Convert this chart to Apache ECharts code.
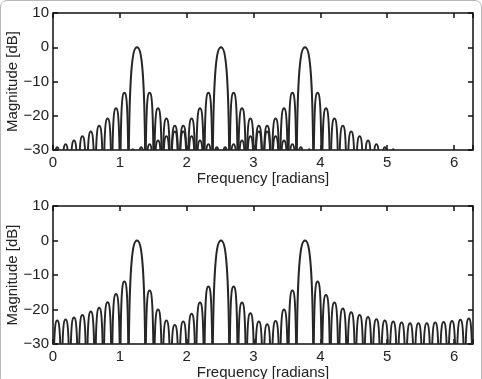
<!DOCTYPE html>
<html>
<head>
<meta charset="utf-8">
<script src="https://cdn.jsdelivr.net/npm/echarts@6/dist/echarts.min.js"></script>
<style>
  html, body { margin: 0; padding: 0; background: #fff; }
  #chart { width: 482px; height: 379px; }
  #frame { position: absolute; left: 0; top: 0; width: 482px; height: 385px; box-sizing: border-box;
           border: 1px solid #b8b8b8; border-radius: 7px; pointer-events: none; }
</style>
</head>
<body>
<div id="chart"></div>
<div id="frame"></div>
<script>
// null positions (radians) shared by every curve
const nulls = [0, 0.126, 0.251, 0.377, 0.503, 0.628, 0.754, 0.880, 1.005, 1.131,
  1.257, 1.382, 1.508, 1.634, 1.759, 1.885, 2.011, 2.136, 2.262, 2.388,
  2.513, 2.639, 2.765, 2.890, 3.016, 3.142, 3.267, 3.393, 3.519, 3.644,
  3.770, 3.896, 4.021, 4.147, 4.273, 4.398, 4.524, 4.650, 4.775, 4.901,
  5.027, 5.152, 5.278, 5.404, 5.529, 5.655, 5.781, 5.906, 6.032, 6.158, 6.283];
const xTicks = [0, 1, 2, 3, 4, 5, 6];
const yTicks = [-30, -20, -10, 0, 10];

// lobe peak per null interval (dB), null = below the -30 floor
const top1Peaks = [-29.2, -28.3, -27.2, -26.0, -24.6, -22.9, -20.8, -17.8, -13.3,
  0, 0,
  -13.3, -17.8, -20.8, -22.9, -24.6, -26.0, -27.2, -28.3, -29.2, -29.8,
  null, null, null, null, null, null, null, null, null, null, null, null, null, null, null,
  null, null, null, null, null, null, null, null, null, null, null, null, null, null];
const top2Peaks = [null, null, null, null, null, null, null, null, null,
  -29.8, -29.2, -28.3, -27.2, -26.0, -24.6, -22.9, -20.8, -17.8, -13.3,
  0, 0,
  -13.3, -17.8, -20.8, -22.9, -24.6, -26.0, -27.2, -28.3, -29.2, -29.8,
  null, null, null, null, null, null, null, null, null, null, null, null, null, null, null,
  null, null, null, null];
const top3Peaks = [null, null, null, null, null, null, null, null, null, null,
  null, null, null, null, null, null, null, null, null,
  -29.8, -29.2, -28.3, -27.2, -26.0, -24.6, -22.9, -20.8, -17.8, -13.3,
  0, 0,
  -13.3, -17.8, -20.8, -22.9, -24.6, -26.0, -27.2, -28.3, -29.2, -29.8,
  null, null, null, null, null, null, null, null, null];
const bottomPeaks = [-23.2, -22.9, -22.3, -21.6, -20.6, -19.5, -17.9, -15.5, -11.9,
  0, 0,
  -14.5, -20.0, -23.2, -24.5, -23.5, -21.2, -18.0, -13.3,
  0, 0,
  -13.3, -18.0, -21.1, -23.5, -24.3, -23.3, -20.0, -14.5,
  0, 0,
  -11.9, -15.8, -18.0, -19.7, -20.8, -21.6, -22.2, -22.8, -23.2, -23.5,
  -23.8, -24.0, -24.0, -24.0, -23.8, -23.6, -23.3, -23.0, -22.6];

// first interval of each main lobe (main lobes span two intervals)
const top1Main = [9];
const top2Main = [19];
const top3Main = [29];
const bottomMain = [9, 19, 29];

function lobes(peaks, mains) {
    const out = [];
    for (let i = 0; i < peaks.length; i++) {
        const isMain = mains.includes(i);
        if (peaks[i] !== null) out.push([nulls[i], nulls[isMain ? i + 2 : i + 1], peaks[i], isMain ? 1 : 0]);
        if (isMain) i++;
    }
    return out;
}

// one arch per lobe, clipped by the plot box at -30 dB
function renderLobe(params, api) {
    const x0 = api.value(0), x1 = api.value(1), p = api.value(2), isMain = api.value(3);
    const h = (x1 - x0) / 2;
    const drop = isMain ? 45 : 40, knee = isMain ? 5 : 2;
    const pts = [[x0, p - drop], [x0, p - knee], [x0 + h / 2, p], [x0 + h, p],
                 [x1 - h / 2, p], [x1, p - knee], [x1, p - drop]].map(d => api.coord(d).map(v => v.toFixed(2)).join(' '));
    const cs = params.coordSys;
    return {
        type: 'path',
        shape: { pathData: `M${pts[0]} C${pts[1]} ${pts[2]} ${pts[3]} C${pts[4]} ${pts[5]} ${pts[6]}` },
        style: { fill: 'none', stroke: '#262626', lineWidth: 2 },
        clipPath: { type: 'rect', shape: { x: cs.x, y: cs.y, width: cs.width, height: cs.height } }
    };
}

const font = { fontFamily: 'Liberation Sans, Arial, sans-serif', fontSize: 15, color: '#222' };
const minus = v => String(v).replace('-', '\u2212');
const tick = { show: true, inside: true, length: 5, lineStyle: { color: '#111', width: 1.5 } };

function xAxes(gridIndex) {
    const base = { type: 'value', gridIndex, min: 0, max: 6.2832, interval: 1, splitLine: { show: false },
        axisLine: { show: false, onZero: false }, axisTick: tick };
    return [
        { ...base, position: 'bottom', name: 'Frequency [radians]', nameLocation: 'middle', nameGap: 20,
          nameTextStyle: font,
          axisLabel: { ...font, margin: 5, formatter: v => xTicks.includes(v) ? String(v) : '' } },
        { ...base, position: 'top', axisLabel: { show: false } }
    ];
}
function yAxes(gridIndex) {
    const base = { type: 'value', gridIndex, min: yTicks[0], max: yTicks[yTicks.length - 1], interval: 10,
        splitLine: { show: false }, axisLine: { show: false, onZero: false }, axisTick: tick };
    return [
        { ...base, position: 'left', axisLabel: { ...font, margin: 4, formatter: minus } },
        { ...base, position: 'right', axisLabel: { show: false } }
    ];
}

// rotated y-axis title, placed beside each plot box
const yTitle = cy => ({
    type: 'text', x: 13, y: cy, rotation: Math.PI / 2,
    style: { text: 'Magnitude [dB]', font: '15px "Liberation Sans", Arial, sans-serif', fill: '#222',
             align: 'center', verticalAlign: 'middle' }
});

const chart = echarts.init(document.getElementById('chart'));
const series = (data, xi, yi) => ({ type: 'custom', xAxisIndex: xi, yAxisIndex: yi, renderItem: renderLobe,
    encode: { x: [0, 1], y: 2 }, data, animation: false, silent: true });

chart.setOption({
    backgroundColor: '#fff',
    animation: false,
    grid: [
        { left: 53, top: 13, width: 420, height: 137, show: true, borderColor: '#111', borderWidth: 1.5,
          outerBoundsMode: 'none', containLabel: false },
        { left: 53, top: 206, width: 420, height: 138, show: true, borderColor: '#111', borderWidth: 1.5,
          outerBoundsMode: 'none', containLabel: false }
    ],
    graphic: [yTitle(81.5), yTitle(275)],
    xAxis: [...xAxes(0), ...xAxes(1)],
    yAxis: [...yAxes(0), ...yAxes(1)],
    series: [
        series(lobes(top1Peaks, top1Main), 0, 0),
        series(lobes(top2Peaks, top2Main), 0, 0),
        series(lobes(top3Peaks, top3Main), 0, 0),
        series(lobes(bottomPeaks, bottomMain), 2, 2)
    ]
});
</script>
</body>
</html>
